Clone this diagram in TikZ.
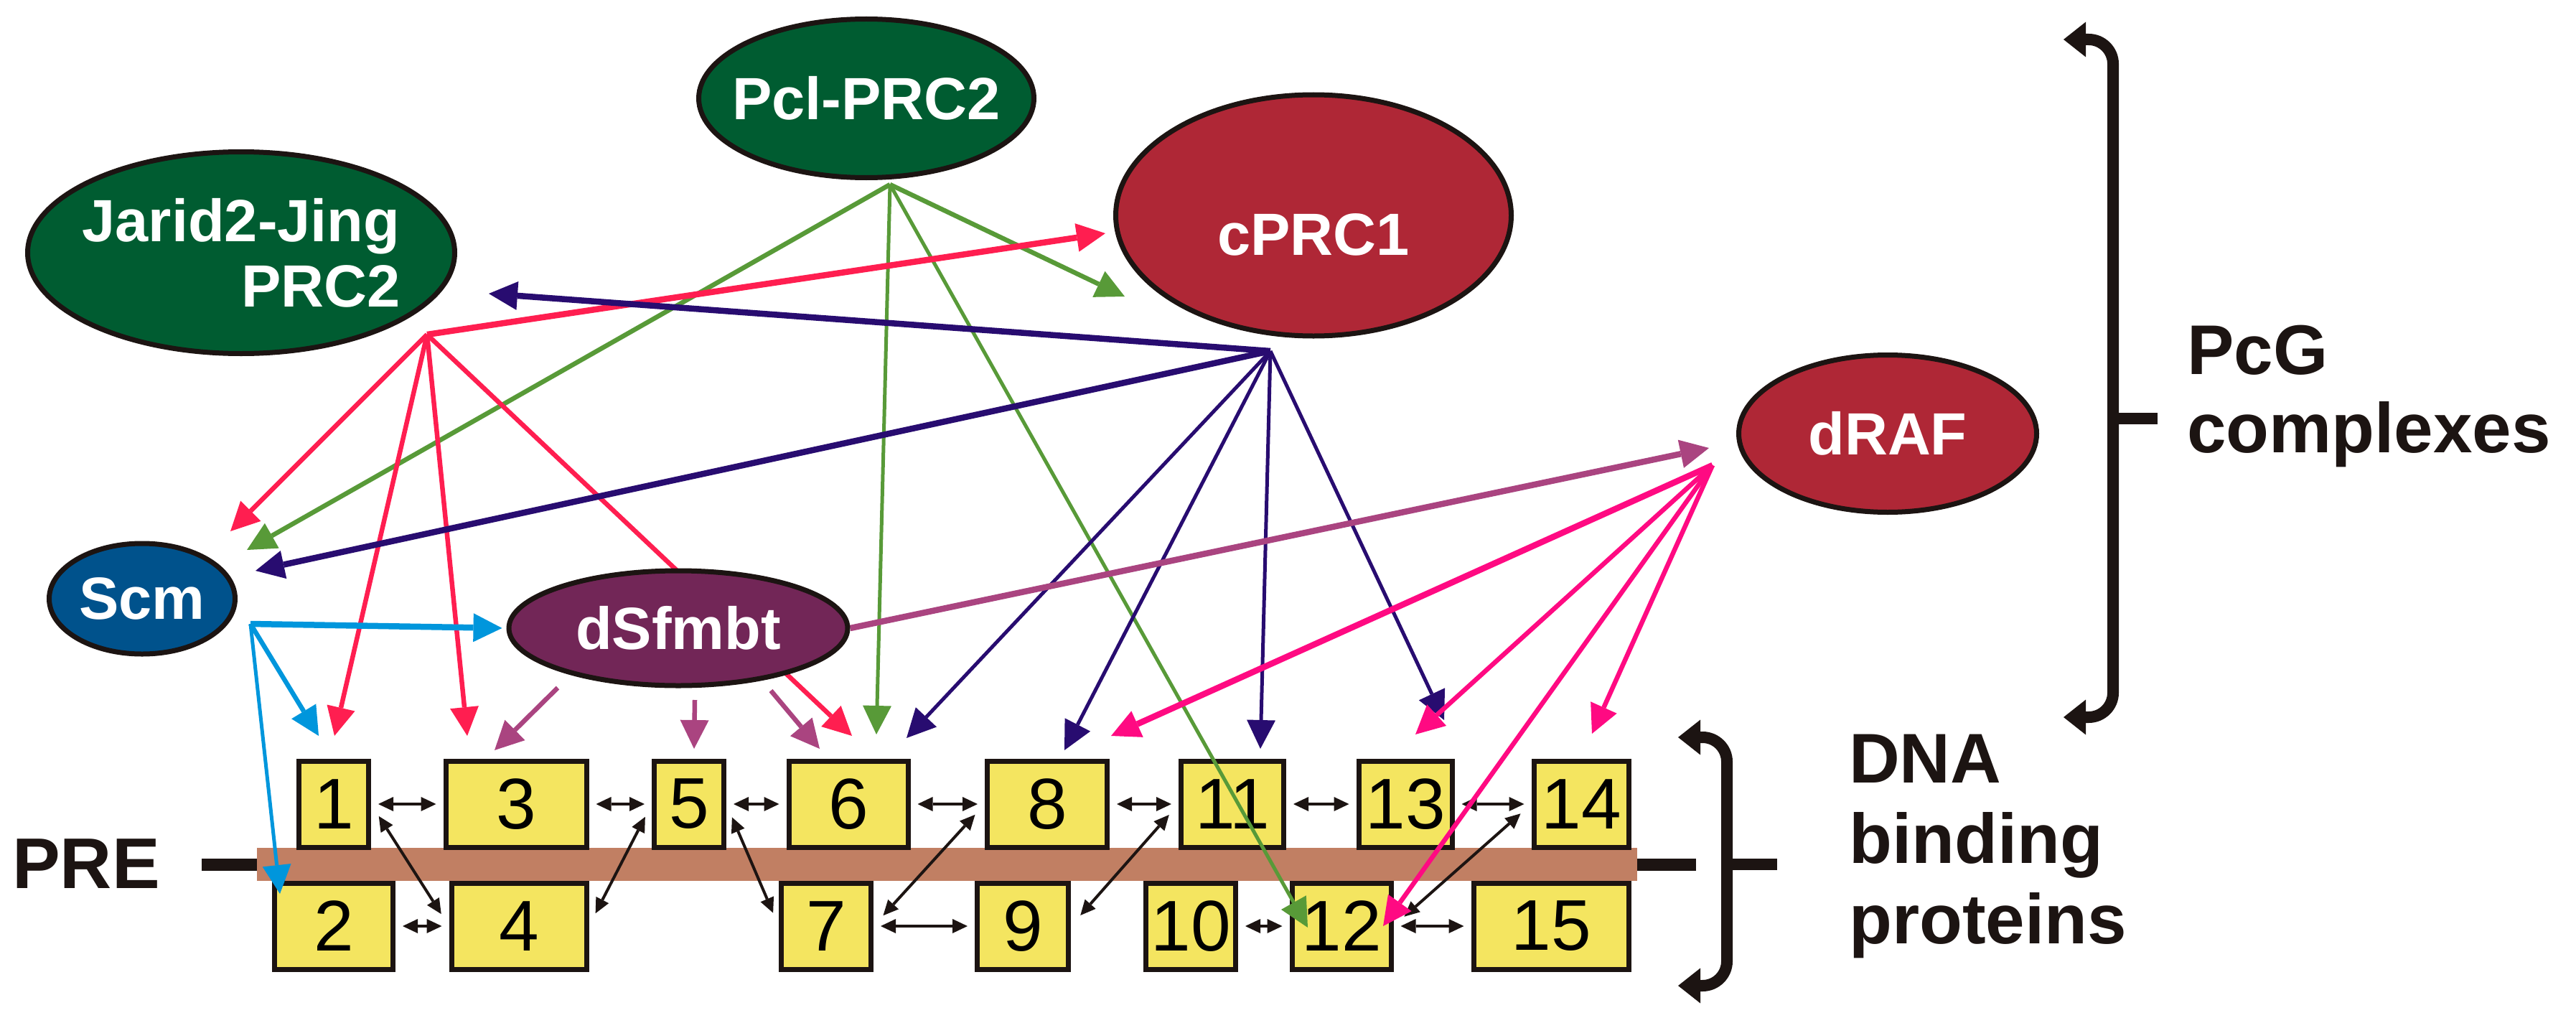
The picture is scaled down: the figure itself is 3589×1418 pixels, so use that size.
\documentclass[tikz,border=0pt]{standalone}
\usepackage{fontspec}
\setmainfont{Liberation Sans}
\usetikzlibrary{arrows.meta, shapes.geometric}

\definecolor{prcgreen}{RGB}{0,92,49}
\definecolor{prcred}{RGB}{175,39,54}
\definecolor{scmblue}{RGB}{0,82,140}
\definecolor{sfmbtpurple}{RGB}{114,38,87}
\definecolor{siteyellow}{RGB}{244,229,96}
\definecolor{dnabrown}{RGB}{193,127,99}
\definecolor{inkblack}{RGB}{28,20,18}
\definecolor{lred}{RGB}{255,30,80}
\definecolor{lnavy}{RGB}{40,12,112}
\definecolor{lgreen}{RGB}{88,154,56}
\definecolor{lblue}{RGB}{0,150,220}
\definecolor{lmauve}{RGB}{170,68,128}
\definecolor{lpink}{RGB}{255,10,130}

\pgfdeclarelayer{back}
\pgfsetlayers{back,main}

\begin{document}
\begin{tikzpicture}[x=1pt, y=-1pt,
complex/.style={ellipse, draw=inkblack, line width=7pt, inner sep=0pt, text=white,
  font=\bfseries\fontsize{83}{91}\selectfont},
site/.style={rectangle, draw=inkblack, fill=siteyellow, line width=7pt, inner sep=0pt,
  minimum height=120pt, font=\fontsize{100}{100}\selectfont},
pcglink/.style={-{Triangle[length=40pt, width=40pt, line width=0pt]}, line width=5pt},
midline/.style={line width=6.5pt},
fatline/.style={line width=8.5pt},
pair/.style={inkblack, line width=4pt, shorten <=10pt, shorten >=10pt,
  {Triangle[length=21pt, width=20pt, line width=0pt]}-{Triangle[length=21pt, width=20pt, line width=0pt]}},
bracket/.style={draw=inkblack, line width=16pt, rounded corners=34pt,
  {Triangle[length=31pt, width=49pt, line width=0pt]}-{Triangle[length=31pt, width=49pt, line width=0pt]}},
sidetext/.style={font=\bfseries\fontsize{98}{112}\selectfont, inner sep=0pt,
  align=left, anchor=north west}
]
\useasboundingbox (0,0) rectangle (3589,1418);

% Define nodes
\path
(1207,137) node[complex, fill=prcgreen, minimum width=467pt, minimum height=221pt, inner xsep=-25pt] (pcl) {Pcl-PRC2}
(336,352) node[complex, fill=prcgreen, minimum width=595pt, minimum height=281pt, inner xsep=-25pt, align=right] (jarid) {Jarid2-Jing\\PRC2}
(1830,300) node[complex, fill=prcred, minimum width=551pt, minimum height=336pt, text height=111pt] (cprc) {cPRC1}
(2630,604) node[complex, fill=prcred, minimum width=415pt, minimum height=219pt] (draf) {dRAF}
(198,834) node[complex, fill=scmblue, minimum width=259pt, minimum height=154pt] (scm) {Scm}
(945,875) node[complex, fill=sfmbtpurple, minimum width=472pt, minimum height=160pt] (sfmbt) {dSfmbt}
;

% hubs and free arrow ends
\path
(1240,257) coordinate (pclhub)
(595,466) coordinate (jarhub)
(1770,489) coordinate (prchub)
(2386,648) coordinate (rafhub)
(349,869) coordinate (scmhub)
(1567,413) coordinate (gtoprc)
(344,766) coordinate (gtoscm)
(1221,1023) coordinate (gto6)
(1822,1292) coordinate (gto12)
(1540,325) coordinate (rtoprc)
(321,740) coordinate (rtoscm)
(466,1025) coordinate (rto1)
(651,1025) coordinate (rto3)
(1187,1025) coordinate (rto6)
(681,409) coordinate (ntojar)
(356,795) coordinate (ntoscm)
(1263,1028) coordinate (nto6)
(1483,1045) coordinate (nto8)
(1756,1043) coordinate (nto11)
(2012,1003) coordinate (nto13)
(1548,1025) coordinate (pto8)
(1972,1023) coordinate (pto13)
(1927,1290) coordinate (pto12)
(2218,1022) coordinate (pto14)
(444,1025) coordinate (bto1)
(390,1245) coordinate (bto2)
(2381,624) coordinate (mtoraf)
(777,958) coordinate (mfrom3) (689,1045) coordinate (mto3)
(968,975) coordinate (mfrom5) (967,1043) coordinate (mto5)
(1074,962) coordinate (mfrom6) (1142,1043) coordinate (mto6)
;

\begin{pgfonlayer}{back}
% PRE and binding sites
\path (1319.5,1204) node[fill=dnabrown, inner sep=0pt, minimum width=1923pt, minimum height=46pt] (dna) {};
\draw[line width=17pt, inkblack] (dna.west) -- +(-77,0) (dna.east) -- +(82,0);

\path
(465,1120) node[site, minimum width=97pt] (b1) {1}
(719,1120) node[site, minimum width=196pt] (b3) {3}
(960,1120) node[site, minimum width=97pt] (b5) {5}
(1182,1120) node[site, minimum width=166pt] (b6) {6}
(1459,1120) node[site, minimum width=167pt] (b8) {8}
(1717,1120) node[site, minimum width=143pt] (b11) {11}
(1958,1120) node[site, minimum width=130pt] (b13) {13}
(2203,1120) node[site, minimum width=132pt] (b14) {14}
(465,1290) node[site, minimum width=165pt] (b2) {2}
(723,1290) node[site, minimum width=188pt] (b4) {4}
(1151,1290) node[site, minimum width=125pt] (b7) {7}
(1425,1290) node[site, minimum width=127pt] (b9) {9}
(1659,1290) node[site, minimum width=125pt] (b10) {10}
(1869,1290) node[site, minimum width=138pt] (b12) {12}
(2161,1290) node[site, minimum width=216pt] (b15) {15}
;

\path[pair]
(b1.east) edge (b3.west) (b3.east) edge (b5.west) (b5.east) edge (b6.west)
(b6.east) edge (b8.west) (b8.east) edge (b11.west) (b11.east) edge (b13.west)
(b13.east) edge (b14.west)
(b2.east) edge (b4.west) (b7.east) edge (b9.west)
(b10.east) edge (b12.west) (b12.east) edge (b15.west)
;
\path[pair, shorten <=20pt, shorten >=20pt]
(b1.east) edge (b4.west) (b5.west) edge (b4.east) (b5.east) edge (b7.west)
(b8.west) edge (b7.east) (b11.west) edge (b9.east) (b14.west) edge (b12.east)
;

% interactions
\path[pcglink, lgreen]
(pclhub) edge[midline] (gtoprc)
(pclhub) edge[midline] (gtoscm)
(pclhub) edge (gto6)
(pclhub) edge (gto12)
;
\path[pcglink, lred]
(jarhub) edge[fatline] (rtoprc)
(jarhub) edge[midline] (rtoscm)
(jarhub) edge[midline] (rto1)
(jarhub) edge[midline] (rto3)
(jarhub) edge[midline] (rto6)
;
\path[pcglink, lnavy]
(prchub) edge[fatline] (ntojar)
(prchub) edge[fatline] (ntoscm)
(prchub) edge (nto6)
(prchub) edge (nto8)
(prchub) edge (nto11)
(prchub) edge (nto13)
;
\path[pcglink, lpink]
(rafhub) edge[fatline] (pto8)
(rafhub) edge[midline] (pto13)
(rafhub) edge[midline] (pto12)
(rafhub) edge[midline] (pto14)
;
\path[pcglink, lblue]
(scmhub) edge[fatline, shorten >=6pt] (sfmbt.west)
(scmhub) edge[midline] (bto1)
(scmhub) edge (bto2)
;
\path[pcglink, lmauve]
(sfmbt.east) edge[fatline] (mtoraf)
(mfrom3) edge[midline] (mto3)
(mfrom5) edge[midline] (mto5)
(mfrom6) edge[midline] (mto6)
;
\end{pgfonlayer}

% groups
\draw[bracket] (2875,55) -| (2944,583) |- (2875,999);
\draw[line width=16pt, inkblack] (2944,583) -- (3006,583);
\draw[bracket] (2338,1027) -| (2406,1204) |- (2338,1373);
\draw[line width=16pt, inkblack] (2406,1204) -- (2476,1204);

\path
(120,1203) node[font=\bfseries\fontsize{100}{100}\selectfont, inner sep=0pt, text=inkblack] (pre) {PRE}
(3047,453) node[sidetext, text=inkblack, font=\bfseries\fontsize{98}{109}\selectfont] (pcg) {PcG\\complexes}
(2576,1023) node[sidetext, text=inkblack] (dnabind) {DNA\\binding\\proteins}
;
\end{tikzpicture}
\end{document}
